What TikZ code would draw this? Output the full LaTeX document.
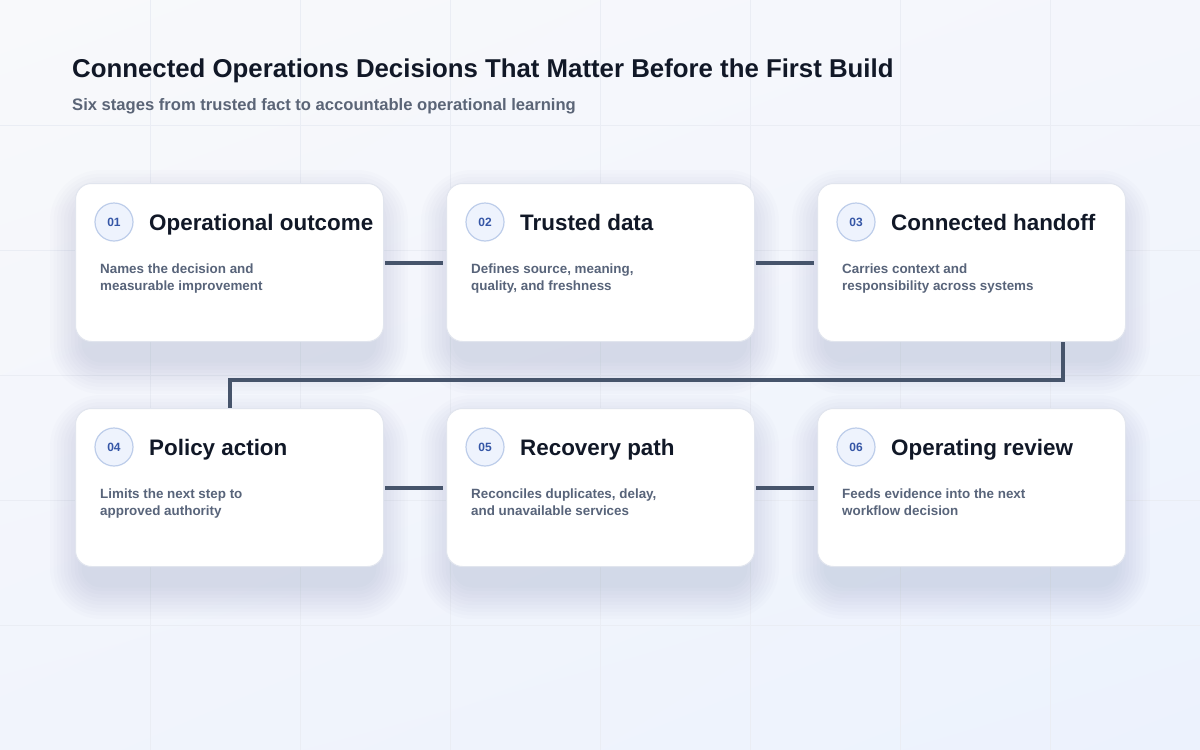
\documentclass[tikz,border=0pt]{standalone}
\usepackage{fontspec}
\setmainfont{Liberation Sans}
\usetikzlibrary{calc,shadings}
\definecolor{bgA}{HTML}{F8F9FB}
\definecolor{bgB}{HTML}{F4F6FC}
\definecolor{bgC}{HTML}{F1F4FC}
\definecolor{bgD}{HTML}{ECF2FD}
\definecolor{gridc}{HTML}{EAEDF4}
\definecolor{shadowc}{HTML}{26356A}
\definecolor{cardline}{HTML}{E1E5EE}
\definecolor{titlec}{HTML}{111827}
\definecolor{subc}{HTML}{5B6577}
\definecolor{descc}{HTML}{58647A}
\definecolor{numc}{HTML}{3556A6}
\definecolor{badgefill}{HTML}{EEF3FD}
\definecolor{badgeline}{HTML}{BDCDEA}
\definecolor{connc}{HTML}{46546B}
\tikzset{
  card/.style={draw=cardline, line width=1pt, fill=white, rounded corners=16pt,
    minimum width=308pt, minimum height=158pt, inner sep=0pt},
  badge/.style={circle, draw=badgeline, line width=1.2pt, fill=badgefill, minimum size=38pt,
    inner sep=0pt, text=numc, font=\fontsize{12}{14}\selectfont\bfseries},
  ctitle/.style={inner sep=0pt, text=titlec, font=\fontsize{22.4}{26}\selectfont\bfseries},
  desc/.style={inner sep=0pt, text=descc, font=\fontsize{13.4}{17}\selectfont\bfseries},
  conn/.style={draw=connc, line width=4pt, line join=miter},
  gridline/.style={draw=gridc, line width=1pt}
}
\newcommand\mkcard[7]{%
  \foreach \k in {1,...,10}{%
    \pgfmathsetmacro\s{\k*3.5}%
    \pgfmathsetmacro\r{16+\s}%
    \fill[shadowc, opacity=0.013, rounded corners=\r pt] (#2+10-\s, #3+22-\s) rectangle (#2+298+\s, #3+176+\s);
  }
  \node[card, anchor=north west] (c#1) at (#2,#3) {};
  \node[badge] (b#1) at ($(c#1.north west)+(39,39)$) {#4};
  \node[ctitle, anchor=base west] (t#1) at ($(c#1.north west)+(74,47)$) {#5};
  \node[desc, anchor=base west] (da#1) at ($(c#1.north west)+(25,90)$) {#6};
  \node[desc, anchor=base west] (db#1) at ($(c#1.north west)+(25,107)$) {#7};
}
\begin{document}
\begin{tikzpicture}[x=1pt,y=-1pt]
\useasboundingbox (0,0) rectangle (1200,750);
\shade[upper left=bgA, upper right=bgB, lower left=bgC, lower right=bgD] (0,0) rectangle (1200,750);
\foreach \gx in {150,300,...,1050} \draw[gridline] (\gx,0) -- (\gx,750);
\foreach \gy in {125,250,...,625} \draw[gridline] (0,\gy) -- (1200,\gy);

\node[inner sep=0pt, anchor=base west, text=titlec, font=\fontsize{25.8}{30}\selectfont\bfseries] (title) at (72,77)
  {Connected Operations Decisions That Matter Before the First Build};
\node[inner sep=0pt, anchor=base west, text=subc, font=\fontsize{16.6}{20}\selectfont\bfseries] (subtitle) at (72,110)
  {Six stages from trusted fact to accountable operational learning};

\mkcard{1}{75}{183}{01}{Operational outcome}{Names the decision and}{measurable improvement}
\mkcard{2}{446}{183}{02}{Trusted data}{Defines source, meaning,}{quality, and freshness}
\mkcard{3}{817}{183}{03}{Connected handoff}{Carries context and}{responsibility across systems}
\mkcard{4}{75}{408}{04}{Policy action}{Limits the next step to}{approved authority}
\mkcard{5}{446}{408}{05}{Recovery path}{Reconciles duplicates, delay,}{and unavailable services}
\mkcard{6}{817}{408}{06}{Operating review}{Feeds evidence into the next}{workflow decision}

\draw[conn, shorten <=1pt, shorten >=3pt] (c1.east) -- (c2.west);
\draw[conn, shorten <=1pt, shorten >=3pt] (c2.east) -- (c3.west);
\coordinate (k3) at ($(c3.south west)+(246,0)$);
\draw[conn] (k3) -- ++(0,38) -| (c4.north);
\draw[conn, shorten <=1pt, shorten >=3pt] (c4.east) -- (c5.west);
\draw[conn, shorten <=1pt, shorten >=3pt] (c5.east) -- (c6.west);
\end{tikzpicture}
\end{document}
